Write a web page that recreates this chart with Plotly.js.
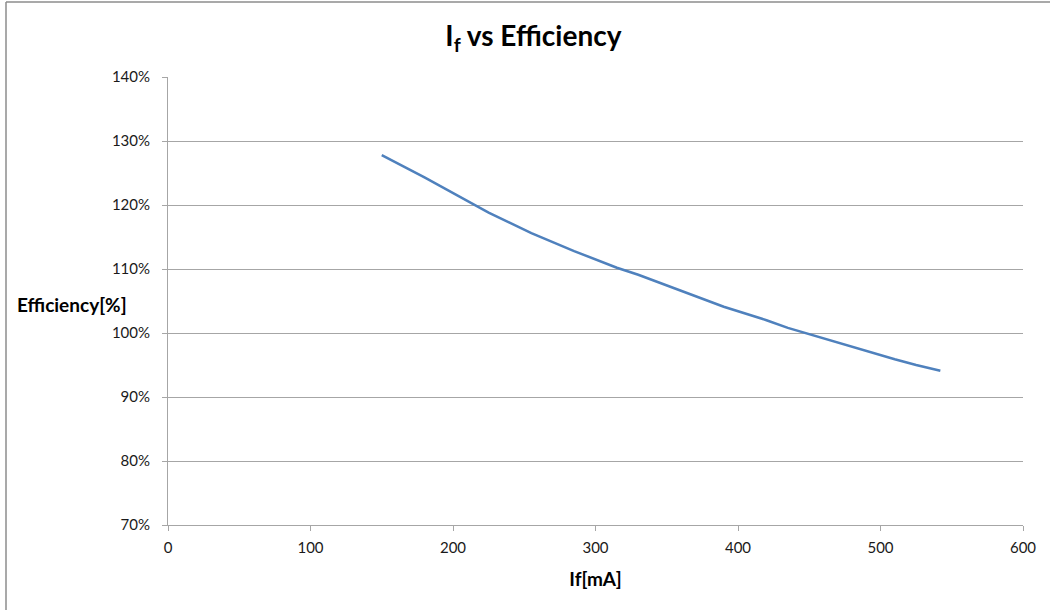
<!DOCTYPE html>
<html>
<head>
<meta charset="utf-8">
<script src="https://cdn.plot.ly/plotly-3.0.1.min.js"></script>
<style>html,body{margin:0;padding:0;background:#fff;}#chart{width:1050px;height:610px;}</style>
</head>
<body>
<div id="chart"></div>
<script>
// If [mA]
const currentMA = [150, 180, 225, 255, 285, 315, 330, 345, 360, 390, 420, 435, 450, 480, 510, 525, 542];
// Efficiency [%]
const efficiencyPct = [127.8, 124.3, 118.8, 115.6, 112.8, 110.2, 109.1, 107.8, 106.6, 104.1, 102.0, 100.8, 99.8, 97.8, 95.9, 95.0, 94.1];
const xTicks = [0, 100, 200, 300, 400, 500, 600];
const yTicks = [70, 80, 90, 100, 110, 120, 130, 140];
const yTickLabels = yTicks.map(v => v + '%');

const font = 'Lato, "Open Sans", "Liberation Sans", sans-serif';
const gridColor = '#a6a6a6';
const textColor = '#1a1a1a';

const trace = {
  x: currentMA,
  y: efficiencyPct,
  type: 'scatter',
  mode: 'lines',
  line: {color: '#4f81bd', width: 2.5},
  hoverinfo: 'skip'
};

const layout = {
  width: 1050,
  height: 610,
  margin: {l: 168, r: 27, t: 77, b: 85},
  paper_bgcolor: '#ffffff',
  plot_bgcolor: '#ffffff',
  showlegend: false,
  font: {family: font, color: textColor, size: 15},
  title: {
    text: 'I<sub>f</sub> vs Efficiency',
    font: {family: font, size: 28, color: '#000', weight: 'bold'},
    x: 0.508, xanchor: 'center', xref: 'container',
    y: 0.94, yanchor: 'middle', yref: 'container'
  },
  xaxis: {
    range: [0, 600],
    tickvals: xTicks,
    ticktext: xTicks.map(String),
    showgrid: false,
    zeroline: false,
    showline: true,
    linecolor: gridColor,
    linewidth: 1,
    ticks: 'outside',
    ticklen: 5,
    tickcolor: gridColor,
    ticklabelstandoff: 4,
    tickfont: {family: font, size: 15, color: textColor},
    title: {text: '<b>If[mA]</b>', font: {family: font, size: 19, color: '#000'}, standoff: 17}
  },
  yaxis: {
    range: [70, 140],
    tickvals: yTicks,
    ticktext: yTickLabels,
    showgrid: true,
    gridcolor: gridColor,
    gridwidth: 1,
    zeroline: false,
    showline: true,
    linecolor: gridColor,
    linewidth: 1,
    ticks: 'outside',
    ticklen: 5,
    tickcolor: gridColor,
    ticklabelstandoff: 9,
    tickfont: {family: font, size: 15, color: textColor}
  },
  annotations: [{
    text: '<b>Efficiency[%]</b>',
    xref: 'paper', yref: 'paper',
    x: (15 - 168) / 855, y: (525 - 304) / 448,
    xanchor: 'left', yanchor: 'middle',
    showarrow: false,
    font: {family: font, size: 19, color: '#000'}
  }],
  shapes: [
    {type: 'line', xref: 'paper', yref: 'paper', x0: (6 - 168) / 855, x1: 1.2, y0: (525 - 2) / 448, y1: (525 - 2) / 448, line: {color: '#8c8c8c', width: 1.5}},
    {type: 'line', xref: 'paper', yref: 'paper', x0: (6 - 168) / 855, x1: (6 - 168) / 855, y0: (525 - 2) / 448, y1: -0.3, line: {color: '#8c8c8c', width: 1.5}}
  ]
};

Plotly.newPlot('chart', [trace], layout, {displayModeBar: false, staticPlot: true});
</script>
</body>
</html>
